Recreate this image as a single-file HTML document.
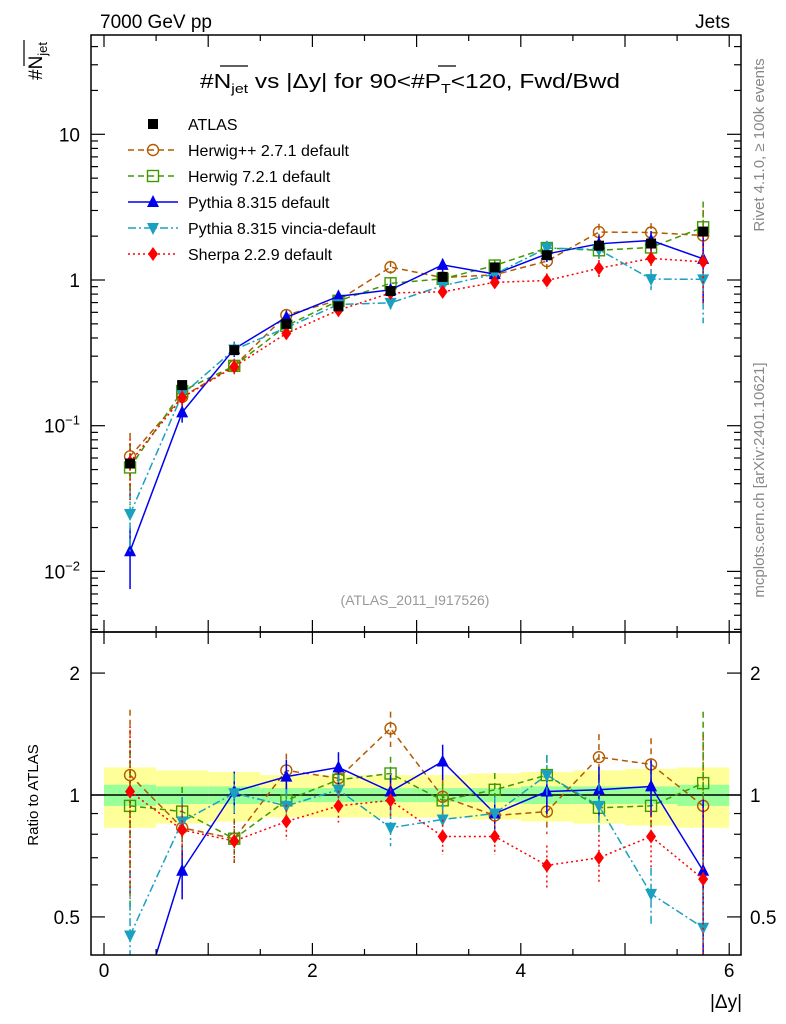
<!DOCTYPE html>
<html><head><meta charset="utf-8"><style>
html,body{margin:0;background:#fff;overflow:hidden;width:786px;height:1024px}
svg{font-family:"Liberation Sans",sans-serif;display:block}
</style></head><body>
<svg id="c" width="786" height="1024" xmlns="http://www.w3.org/2000/svg">
<text x="100" y="28" font-size="19">7000 GeV pp</text>
<text x="730" y="28" font-size="19" text-anchor="end">Jets</text>
<text x="200" y="88" font-size="20" textLength="420" lengthAdjust="spacingAndGlyphs">#N<tspan font-size="13" dy="5">jet</tspan><tspan dy="-5"> vs |Δy| for 90&lt;#P</tspan><tspan font-size="13" dy="5">T</tspan><tspan dy="-5">&lt;120, Fwd/Bwd</tspan></text>
<line x1="220" y1="66" x2="248" y2="66" stroke="#000" stroke-width="1.2"/>
<line x1="438" y1="66" x2="456" y2="66" stroke="#000" stroke-width="1.2"/>
<g transform="translate(42,80) rotate(-90)"><text font-size="19">#N<tspan font-size="13" dy="5">jet</tspan></text><line x1="14" y1="-18" x2="40" y2="-18" stroke="#000" stroke-width="1.2"/></g>
<text transform="translate(38,795) rotate(-90)" font-size="15" text-anchor="middle">Ratio to ATLAS</text>
<text transform="translate(764,145) rotate(-90)" font-size="15" fill="#888" text-anchor="middle">Rivet 4.1.0, ≥ 100k events</text>
<text transform="translate(764,480) rotate(-90)" font-size="15" fill="#888" text-anchor="middle">mcplots.cern.ch [arXiv:2401.10621]</text>
<text x="415" y="605" font-size="14" fill="#999" text-anchor="middle">(ATLAS_2011_I917526)</text>
<text x="742" y="1008" font-size="19" text-anchor="end">|Δy|</text>
<defs><clipPath id="cm"><rect x="91" y="35" width="650" height="597"/></clipPath><clipPath id="cr"><rect x="91" y="632" width="650" height="323"/></clipPath></defs>
<g id="main" clip-path="url(#cm)"></g>
<g id="ratio" clip-path="url(#cr)"></g>
<g id="axes"></g>
<g id="legend"></g>
</svg>
<script>
const xs=[0.25,0.75,1.25,1.75,2.25,2.75,3.25,3.75,4.25,4.75,5.25,5.75];
const atlas=[0.055,0.19,0.33,0.50,0.66,0.84,1.05,1.22,1.48,1.72,1.78,2.15];
const statBand=[0.06,0.05,0.05,0.04,0.04,0.04,0.04,0.04,0.05,0.05,0.05,0.06];
const totBand=[0.17,0.15,0.14,0.12,0.12,0.12,0.12,0.13,0.14,0.15,0.16,0.17];
const rHpp=[1.12,0.83,0.78,1.15,1.10,1.46,0.99,0.89,0.91,1.24,1.19,0.94];
const rH7=[0.94,0.91,0.78,0.97,1.09,1.13,0.97,1.03,1.12,0.93,0.94,1.07];
const rPy=[0.25,0.65,1.02,1.11,1.17,1.02,1.21,0.90,1.02,1.03,1.05,0.65];
const rVin=[0.45,0.86,1.01,0.94,1.03,0.83,0.87,0.90,1.12,0.94,0.57,0.47];
const rSh=[1.02,0.82,0.77,0.86,0.94,0.97,0.79,0.79,0.67,0.70,0.79,0.62];
const relErr=[0.45,0.15,0.12,0.1,0.09,0.1,0.1,0.1,0.12,0.14,0.16,0.5];
const xTicks=[0,2,4,6];
const ns="http://www.w3.org/2000/svg";
const X=v=>104+v*104.2;
const YM=v=>280-145.7*Math.log10(v);
const YR=v=>795-405*Math.log10(v);
function mk(p,t,a){const e=document.createElementNS(ns,t);for(const k in a)e.setAttribute(k,a[k]);p.appendChild(e);return e;}
const main=document.getElementById('main'),ratio=document.getElementById('ratio'),axes=document.getElementById('axes'),leg=document.getElementById('legend');
xs.forEach((x,i)=>{
 const b1=mk(ratio,'rect',{x:X(x-0.25),y:YR(1+totBand[i]),width:X(0.5)-X(0),height:YR(1-totBand[i])-YR(1+totBand[i]),fill:'#ffff99'});
 
 
 const b2=mk(ratio,'rect',{x:X(x-0.25),y:YR(1+statBand[i]),width:X(0.5)-X(0),height:YR(1-statBand[i])-YR(1+statBand[i]),fill:'#99ff99'});
 
 
});
mk(ratio,'line',{x1:91,x2:741,y1:YR(1),y2:YR(1),stroke:'#000','stroke-width':1.5});
function marker(g,type,cx,cy,col){
 if(type==='sq')return mk(g,'rect',{x:cx-5.5,y:cy-5.5,width:11,height:11,fill:'none',stroke:col,'stroke-width':1.4});
 if(type==='fsq')return mk(g,'rect',{x:cx-5,y:cy-5,width:10,height:10,fill:col});
 if(type==='oc')return mk(g,'circle',{cx:cx,cy:cy,r:5.5,fill:'none',stroke:col,'stroke-width':1.4});
 if(type==='tu')return mk(g,'polygon',{points:`${cx},${cy-7} ${cx-6},${cy+5} ${cx+6},${cy+5}`,fill:col});
 if(type==='td')return mk(g,'polygon',{points:`${cx},${cy+7} ${cx-6},${cy-5} ${cx+6},${cy-5}`,fill:col});
 if(type==='di')return mk(g,'polygon',{points:`${cx},${cy-7} ${cx-5},${cy} ${cx},${cy+7} ${cx+5},${cy}`,fill:col});
}
const series=[
 {n:'herwigpp',r:rHpp,c:'#b35a00',d:'6,4',m:'oc',lab:'Herwig++ 2.7.1 default'},
 {n:'herwig7',r:rH7,c:'#3f9a00',d:'6,4',m:'sq',lab:'Herwig 7.2.1 default'},
 {n:'pythia8',r:rPy,c:'#0000ee',d:'',m:'tu',lab:'Pythia 8.315 default'},
 {n:'pythia8-vincia',r:rVin,c:'#1aa0c0',d:'8,3,2,3',m:'td',lab:'Pythia 8.315 vincia-default'},
 {n:'sherpa',r:rSh,c:'#ff0000',d:'2,3',m:'di',lab:'Sherpa 2.2.9 default'}];
series.forEach(s=>{
 [[main,(i)=>atlas[i]*s.r[i],YM],[ratio,(i)=>s.r[i],YR]].forEach(([g,val,Y])=>{
  const gg=mk(g,'g',{});
  
  
  const pts=xs.map((x,i)=>X(x)+','+Y(val(i))).join(' ');
  mk(gg,'polyline',{points:pts,fill:'none',stroke:s.c,'stroke-width':1.5,'stroke-dasharray':s.d});
  xs.forEach((x,i)=>{
   const v=val(i),e=relErr[i];
   mk(gg,'line',{x1:X(x),x2:X(x),y1:Y(v*(1+e)),y2:Y(Math.max(v*(1-e),1e-4)),stroke:s.c,'stroke-width':1.5,'stroke-dasharray':s.d});
   const m=marker(gg,s.m,X(x),Y(v),s.c);
   
   
  });
 });
});
xs.forEach((x,i)=>{
 const m=marker(main,'fsq',X(x),YM(atlas[i]),'#000');
 
 
});
mk(axes,'rect',{x:91,y:35,width:650,height:597,fill:'none',stroke:'#000','stroke-width':1.5});
mk(axes,'rect',{x:91,y:632,width:650,height:323,fill:'none',stroke:'#000','stroke-width':1.5});
for(let v=0;v<=6.01;v+=0.5){const maj=Math.abs(v-Math.round(v))<0.01,L=maj?12:6;
 [[35,1],[632,-1],[632,1],[955,-1]].forEach(([y,d])=>mk(axes,'line',{x1:X(v),x2:X(v),y1:y,y2:y+d*L,stroke:'#000','stroke-width':1.2}));}
xTicks.forEach(v=>{const t=mk(axes,'text',{x:X(v),y:977,'font-size':19,'text-anchor':'middle'});t.textContent=v;
 
 });
for(let e=-3;e<=1;e++)for(let k=1;k<10;k++){const v=k*Math.pow(10,e),y=YM(v);if(y<35||y>632)continue;const L=k===1?14:7;
 mk(axes,'line',{x1:91,x2:91+L,y1:y,y2:y,stroke:'#000','stroke-width':1.2});mk(axes,'line',{x1:741,x2:741-L,y1:y,y2:y,stroke:'#000','stroke-width':1.2});}
[[10,'10'],[1,'1']].forEach(([v,s])=>{const t=mk(axes,'text',{x:80,y:YM(v)+7,'font-size':19,'text-anchor':'end'});t.textContent=s;
 
 });
[[0.1,'−1'],[0.01,'−2']].forEach(([v,s])=>{const t=mk(axes,'text',{x:80,y:YM(v)+7,'font-size':19,'text-anchor':'end'});t.innerHTML='10<tspan font-size="13" dy="-8">'+s+'</tspan>';
 
 });
[0.5,0.6,0.7,0.8,0.9,1,2].forEach(v=>{const y=YR(v),L=(v===1||v===2||v===0.5)?14:7;
 mk(axes,'line',{x1:91,x2:91+L,y1:y,y2:y,stroke:'#000','stroke-width':1.2});mk(axes,'line',{x1:741,x2:741-L,y1:y,y2:y,stroke:'#000','stroke-width':1.2});});
[[2,'2'],[1,'1'],[0.5,'0.5']].forEach(([v,s])=>{[[80,'end'],[750,'start']].forEach(([x,a])=>{const t=mk(axes,'text',{x:x,y:YR(v)+7,'font-size':19,'text-anchor':a});t.textContent=s;
 
 });});
const le=[{m:'fsq',c:'#000',lab:'ATLAS',d:null}].concat(series.map(s=>({m:s.m,c:s.c,lab:s.lab,d:s.d})));
le.forEach((e,i)=>{const y=124+i*26;const g=mk(leg,'g',{});
 
 
 if(e.d!==null)mk(g,'line',{x1:128,x2:178,y1:y,y2:y,stroke:e.c,'stroke-width':1.5,'stroke-dasharray':e.d});
 marker(g,e.m,153,y,e.c);
 const t=mk(g,'text',{x:188,y:y+6,'font-size':16});t.textContent=e.lab;});
</script>
</body></html>
